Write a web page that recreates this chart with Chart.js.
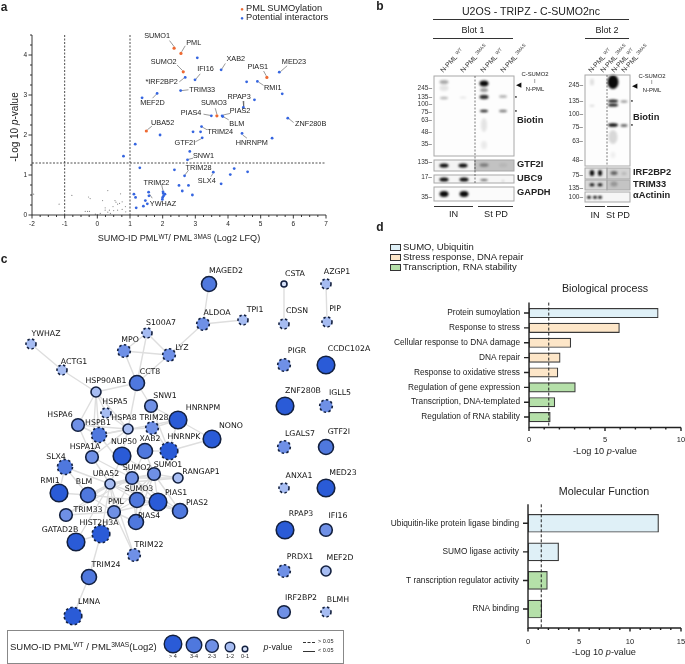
<!DOCTYPE html>
<html>
<head>
<meta charset="utf-8">
<title>SUMO-ID PML</title>
<script src="https://cdn.jsdelivr.net/npm/chart.js@4"></script>
<style>
	html, body { margin: 0; padding: 0; background: #fff; }
	#page { position: relative; width: 685px; height: 664px; overflow: hidden; font-family: "Liberation Sans", sans-serif; color: #222; }
	canvas { position: absolute; }
	.t { position: absolute; white-space: nowrap; line-height: 1; transform: translate(-50%, -50%); }
	.t sup { font-size: 70%; line-height: 0; vertical-align: 0.45em; }
	.box { position: absolute; box-sizing: border-box; }
</style>
</head>
<body>
<div id="page"></div>
<script>
// panel a - volcano
const sumoX = [2.35, 2.56, 2.63, 5.19, 3.66, 1.5];
const sumoY = [4.17, 4.04, 3.58, 3.44, 2.48, 2.1];
const interactorX = [3.06, 3.79, 5.57, 2.69, 2.99, 4.57, 4.9, 5.66, 2.55, 1.83, 1.37, 4.81, 4.47, 3.49, 3.82, 3.84, 5.83, 3.19, 2.93, 3.16, 1.92, 3.21, 4.43, 5.35, 1.16, 2.83, 2.76, 0.8, 1.3, 2.36, 2.67, 3.55, 4.19, 4.07, 4.6, 3.79, 2.5, 2.79, 2.6, 2.91, 2.01, 2.02, 2.07, 2.03, 2.0, 1.99, 1.57, 1.58, 1.47, 1.53, 1.41, 1.12, 1.17, 1.19];
const interactorY = [3.93, 3.63, 3.57, 3.44, 3.38, 3.33, 3.34, 3.03, 3.11, 3.04, 2.93, 2.88, 2.69, 2.48, 2.48, 2.46, 2.42, 2.21, 2.08, 2.08, 2.0, 1.93, 2.04, 1.92, 1.77, 1.59, 1.38, 1.47, 1.18, 1.13, 0.98, 1.07, 1.16, 1.01, 1.08, 0.78, 0.74, 0.74, 0.6, 0.5, 0.58, 0.54, 0.52, 0.48, 0.44, 0.39, 0.57, 0.48, 0.36, 0.28, 0.22, 0.52, 0.44, 0.18];
const otherX = [-1.95, -0.78, -1.17, -0.27, -0.22, 0.32, 0.71, 0.16, 0.54, 0.57, 0.62, 0.68, 0.76, -0.37, -0.3, -0.24, -0.06, 0, 0.24, 0.24, 0.32, 0.37, 0.4, 0.48, 0.5, 0.62, 0.76, 0.86, 0.87, 0.09];
const otherY = [0.52, 0.49, 0.27, 0.45, 0.41, 0.61, 0.53, 0.36, 0.36, 0.32, 0.27, 0.29, 0.33, 0.09, 0.09, 0.09, 0.02, 0.01, 0.18, 0.12, 0.07, 0.12, 0.04, 0.21, 0.11, 0.12, 0.14, 0.21, 0.08, 0.04];
const volcanoNames = ["SUMO1", "PML", "XAB2", "SUMO2", "IFI16", "PIAS1", "MED23", "*IRF2BP2", "TRIM33", "RMI1", "RPAP3", "MEF2D", "SUMO3", "PIAS2", "PIAS4", "BLM", "UBA52", "ZNF280B", "TRIM24", "GTF2I", "HNRNPM", "SNW1", "TRIM28", "SLX4", "TRIM22", "YWHAZ"];
const volcanoNameX = [1.83, 2.95, 4.24, 2.03, 3.31, 4.91, 6.02, 1.97, 3.21, 5.37, 4.34, 1.69, 3.57, 4.37, 2.87, 4.27, 2.0, 6.53, 3.76, 2.68, 4.73, 3.25, 3.1, 3.35, 1.81, 2.01];
const volcanoNameY = [4.48, 4.3, 3.9, 3.83, 3.64, 3.7, 3.83, 3.32, 3.13, 3.18, 2.96, 2.79, 2.79, 2.6, 2.54, 2.28, 2.31, 2.27, 2.08, 1.79, 1.8, 1.48, 1.18, 0.86, 0.81, 0.27];
const leaderLines = [[2.21, 4.36, 2.35, 4.21], [2.69, 4.23, 2.58, 4.08], [3.92, 3.79, 3.81, 3.65], [2.44, 3.75, 2.61, 3.61], [3.15, 3.53, 3.01, 3.39], [5.09, 3.6, 5.17, 3.48], [5.81, 3.73, 5.6, 3.58], [2.51, 3.33, 2.65, 3.42], [2.79, 3.13, 2.58, 3.11], [5.09, 3.24, 4.94, 3.32], [4.46, 2.85, 4.48, 2.71], [1.69, 2.92, 1.82, 3.03], [3.61, 2.67, 3.66, 2.52], [4.07, 2.54, 3.85, 2.5], [3.25, 2.52, 3.46, 2.49], [4.02, 2.38, 3.87, 2.45], [1.67, 2.22, 1.53, 2.13], [6.01, 2.31, 5.86, 2.41], [3.36, 2.13, 3.21, 2.2], [3.0, 1.83, 3.19, 1.91], [4.58, 1.92, 4.45, 2.0], [2.93, 1.42, 2.78, 1.39], [2.8, 1.13, 2.68, 1.0], [3.48, 0.96, 3.54, 1.04], [1.97, 0.75, 2.01, 0.61], [1.68, 0.42, 1.6, 0.52]];

// panel c - network, in picture units
const nodeNames = ["MAGED2", "CSTA", "AZGP1", "ALDOA", "TPI1", "CDSN", "PIP", "S100A7", "YWHAZ", "MPO", "LYZ", "PIGR", "CCDC102A", "ACTG1", "CCT8", "HSP90AB1", "ZNF280B", "IGLL5", "SNW1", "HSPA5", "HSPA6", "TRIM28", "HNRNPM", "HSPB1", "HSPA8", "NONO", "LGALS7", "GTF2I", "XAB2", "HNRNPK", "HSPA1A", "NUP50", "SLX4", "SUMO2", "SUMO1", "RANGAP1", "UBA52", "RMI1", "BLM", "SUMO3", "PIAS1", "PIAS2", "TRIM33", "PML", "PIAS4", "GATAD2B", "HIST2H3A", "TRIM22", "TRIM24", "LMNA", "ANXA1", "MED23", "RPAP3", "IFI16", "PRDX1", "MEF2D", "IRF2BP2", "BLMH"];
const nodeX = [209, 284, 326, 203, 243, 284, 327, 147, 31, 124, 169, 284, 326, 62, 137, 96, 285, 326, 151, 106, 78, 152, 178, 99, 128, 212, 284, 326, 145, 169, 92, 122, 65, 132, 154, 178, 110, 59, 88, 137, 158, 180, 66, 114, 136, 76, 101, 134, 89, 73, 284, 326, 285, 326, 284, 326, 284, 326];
const nodeY = [284, 284, 284, 324, 320, 324, 322, 333, 344, 351, 355, 365, 365, 370, 383, 392, 406, 406, 406, 413, 425, 428, 420, 435, 429, 439, 447, 447, 451, 451, 457, 456, 467, 478, 474, 478, 484, 493, 495, 500, 502, 511, 515, 512, 522, 542, 534, 555, 577, 616, 488, 488, 530, 530, 571, 571, 612, 612];
const nodeClass = [1, 4, 3, 2, 3, 3, 3, 3, 3, 2, 2, 2, 0, 3, 1, 3, 0, 2, 2, 3, 2, 2, 0, 1, 3, 0, 2, 1, 1, 0, 2, 0, 1, 2, 2, 3, 3, 0, 1, 1, 0, 1, 2, 2, 1, 0, 0, 2, 1, 0, 3, 0, 0, 2, 2, 3, 2, 3];
const dashedNodes = ["AZGP1", "ALDOA", "TPI1", "CDSN", "PIP", "S100A7", "YWHAZ", "MPO", "LYZ", "PIGR", "ACTG1", "IGLL5", "HSPA5", "TRIM28", "HSPB1", "LGALS7", "HNRNPK", "SLX4", "HIST2H3A", "TRIM22", "LMNA", "ANXA1", "PRDX1", "BLMH"];
const labelX = [226, 295, 337, 217, 255, 297, 335, 161, 46, 130, 182, 297, 349, 74, 150, 106, 303, 340, 165, 115, 60, 154, 203, 98, 124, 231, 300, 339, 150, 184, 85, 124, 56, 137, 168, 201, 106, 50, 84, 139, 176, 197, 88, 116, 149, 60, 99, 149, 106, 89, 299, 343, 301, 338, 300, 340, 301, 338];
const labelY = [271, 274, 272, 313, 310, 311, 309, 323, 334, 340, 348, 351, 349, 362, 372, 381, 391, 393, 396, 402, 415, 418, 408, 423, 418, 426, 434, 432, 439, 437, 447, 442, 457, 468, 465, 472, 474, 481, 482, 489, 493, 503, 510, 502, 516, 530, 523, 545, 565, 602, 476, 473, 514, 516, 557, 558, 598, 600];
const edges = [["MAGED2", "ALDOA"], ["ALDOA", "TPI1"], ["ALDOA", "LYZ"], ["CSTA", "CDSN"], ["AZGP1", "PIP"], ["S100A7", "MPO"], ["S100A7", "LYZ"], ["S100A7", "CCT8"], ["MPO", "LYZ"], ["MPO", "CCT8"], ["LYZ", "CCT8"], ["YWHAZ", "ACTG1"], ["ACTG1", "HSP90AB1"], ["HSP90AB1", "CCT8"], ["CCT8", "SNW1"], ["CCT8", "HSPA8"], ["HSP90AB1", "HSPA5"], ["HSP90AB1", "HSPA6"], ["HSP90AB1", "HSPB1"], ["HSP90AB1", "HSPA8"], ["HSP90AB1", "HSPA1A"], ["HSPA5", "HSPA8"], ["HSPA6", "HSPB1"], ["HSPA6", "HSPA8"], ["HSPA6", "HSPA1A"], ["HSPB1", "HSPA8"], ["HSPB1", "HSPA1A"], ["HSPA8", "HSPA1A"], ["HSPA8", "TRIM28"], ["HSPB1", "HNRNPM"], ["SNW1", "HNRNPM"], ["SNW1", "HNRNPK"], ["TRIM28", "HNRNPM"], ["TRIM28", "HNRNPK"], ["HNRNPM", "HNRNPK"], ["HNRNPM", "NONO"], ["HNRNPK", "NONO"], ["HSPA8", "NUP50"], ["XAB2", "HNRNPK"], ["NUP50", "SUMO2"], ["NUP50", "SUMO1"], ["NUP50", "UBA52"], ["XAB2", "SUMO2"], ["XAB2", "SUMO1"], ["HSPA1A", "UBA52"], ["HSPA1A", "SUMO2"], ["HSPB1", "SUMO2"], ["SUMO1", "SUMO2"], ["SUMO1", "RANGAP1"], ["SUMO2", "RANGAP1"], ["SUMO1", "SUMO3"], ["SUMO2", "SUMO3"], ["SUMO1", "PIAS1"], ["SUMO2", "PIAS1"], ["SUMO1", "PIAS2"], ["SUMO2", "PIAS2"], ["SUMO3", "PIAS1"], ["SUMO3", "PIAS2"], ["PIAS1", "PIAS2"], ["SUMO1", "PIAS4"], ["SUMO2", "PIAS4"], ["SUMO3", "PIAS4"], ["SUMO1", "PML"], ["SUMO2", "PML"], ["SUMO3", "PML"], ["PML", "PIAS1"], ["PML", "PIAS4"], ["UBA52", "SUMO1"], ["UBA52", "SUMO2"], ["UBA52", "SUMO3"], ["UBA52", "PML"], ["UBA52", "PIAS1"], ["UBA52", "RANGAP1"], ["SLX4", "RMI1"], ["SLX4", "BLM"], ["SLX4", "UBA52"], ["RMI1", "BLM"], ["BLM", "UBA52"], ["BLM", "PML"], ["BLM", "SUMO2"], ["BLM", "SUMO3"], ["TRIM33", "UBA52"], ["TRIM33", "PML"], ["TRIM33", "SUMO2"], ["GATAD2B", "HIST2H3A"], ["GATAD2B", "UBA52"], ["HIST2H3A", "UBA52"], ["HIST2H3A", "PML"], ["HIST2H3A", "TRIM24"], ["TRIM24", "LMNA"], ["TRIM22", "UBA52"], ["TRIM22", "PML"]];
const classLabels = ["> 4", "3-4", "2-3", "1-2", "0-1"];
const classColors = ["#2a5bd7", "#4f78de", "#6f90e6", "#a6bcf2", "#d6e1f9"];
const classRadius = [8.8, 7.5, 6.3, 5, 3];
const keyX = [173, 194, 212, 230, 245];
const keyY = [644, 645, 646, 647, 649];
const keyRadius = [8.8, 7.8, 6.4, 4.8, 2.8];

// panel d - enrichment bars
const processNames = ["Protein sumoylation", "Response to stress", "Cellular response to DNA damage", "DNA repair", "Response to oxidative stress", "Regulation of gene expression", "Transcription, DNA-templated", "Regulation of RNA stability"];
const processValues = [8.5, 5.95, 2.75, 2.05, 1.9, 3.05, 1.7, 1.4];
const processColors = ["#dff0f7", "#fde6c8", "#fde6c8", "#fde6c8", "#fde6c8", "#b5e0a9", "#b5e0a9", "#b5e0a9"];
const functionNames = ["Ubiquitin-like protein ligase binding", "SUMO ligase activity", "T ranscription regulator activity", "RNA binding"];
const functionValues = [12.8, 3.0, 1.9, 1.35];
const functionColors = ["#dff0f7", "#dff0f7", "#b5e0a9", "#b5e0a9"];
const pThreshold = 1.3;

// panel b - blots, in picture units: x1, y1, x2, y2, fill
const blotPanels = [[434, 76, 514, 156, "#fdfdfd"], [434, 160, 475, 171, "#f4f4f4"], [475, 160, 514, 171, "#c2c2c2"], [434, 175, 514, 183, "#f6f6f6"], [434, 187, 514, 201, "#fbfbfb"], [585, 75, 630, 166, "#fdfdfd"], [585, 168, 607, 179, "#e8e8e8"], [607, 168, 630, 179, "#d4d4d4"], [585, 180, 607, 190, "#d8d8d8"], [607, 180, 630, 190, "#c4c4c4"], [585, 192, 630, 202, "#f6f6f6"]];
// x, y, width, height, darkness
const blotBands = [[444, 82, 9, 4, 0.35], [444, 88, 9, 6, 0.1], [444, 98, 8, 2.5, 0.3], [463, 97.5, 7, 1.5, 0.12], [484, 83.5, 9, 6, 1], [484, 90, 8, 4, 0.4], [484, 97, 9, 4.5, 0.85], [484, 111, 8, 2.5, 0.9], [503, 96.5, 8, 2.5, 0.35], [503, 111, 8, 2.5, 0.55], [484, 125, 6, 14, 0.1], [484, 145, 6, 8, 0.08],
	[444, 165.5, 9, 4, 1], [463, 165.5, 9, 4, 1], [484, 165, 9, 3.5, 0.4], [503, 165, 8, 3, 0.08],
	[444, 179.5, 9, 4, 1], [464, 179.5, 9, 4, 1], [484, 180, 8, 1.5, 0.85], [503, 181, 1.5, 1.5, 0.4],
	[444, 194, 9, 6, 1], [464, 194, 9, 6, 1],
	[592, 82, 4, 7, 0.12], [592, 105.7, 5, 1.5, 0.2], [613, 82, 11, 14, 1], [613, 101, 10, 3, 0.95], [613, 105, 10, 3, 0.95], [624, 101.5, 7, 2, 0.5], [613, 125, 10, 3.5, 1], [624, 125.5, 7, 2.5, 0.7], [613, 137, 9, 14, 0.15], [613, 155, 5, 6, 0.06],
	[592, 173, 4.5, 6, 1], [600, 173, 4, 6, 1], [614, 173, 7, 4, 0.55], [624, 173.5, 5, 3, 0.15],
	[592, 184.7, 5, 3, 1], [600, 184.7, 5, 3, 1], [614, 184, 7, 5, 0.25],
	[589, 197.3, 4, 3, 1], [595, 197.3, 4, 3, 1], [600, 197.3, 4, 3, 1]];
const blotSplits = [[475, 76, 183], [607, 75, 166]];
const laneX = [442, 462, 482, 502, 590, 602, 613, 623];
const laneTags = ["WT", "3MAS", "WT", "3MAS", "WT", "3MAS", "WT", "3MAS"];
const sizeLabels = ["245", "135", "100", "75", "63", "48", "35", "135", "17", "35", "245", "135", "100", "75", "63", "48", "75", "135", "100"];
const sizeY = [88, 97, 103.5, 112, 120, 132, 143.7, 161.5, 177, 197, 85, 101, 114, 127, 141, 160, 175, 187.5, 197];
const sizeRight = [432, 432, 432, 432, 432, 432, 432, 432, 432, 432, 583, 583, 583, 583, 583, 583, 583, 583, 583];

const page = document.querySelector("#page");
Chart.defaults.animation = false;
Chart.defaults.responsive = false;
Chart.defaults.font.family = '"Liberation Sans", sans-serif';
Chart.defaults.layout.autoPadding = false;
Chart.defaults.plugins.legend.display = false;
Chart.defaults.plugins.tooltip.enabled = false;

function addText(x, y, html, size, extra = "") {
	const el = document.createElement("div");
	el.className = "t";
	el.style.cssText = `left:${x}px;top:${y}px;font-size:${size}px;${extra}`;
	el.innerHTML = html;
	page.appendChild(el);
	return el;
}

function addBox(x, y, w, h, css) {
	const el = document.createElement("div");
	el.className = "box";
	el.style.cssText = `left:${x}px;top:${y}px;width:${w}px;height:${h}px;${css}`;
	page.appendChild(el);
}

function addCanvas(x, y, w, h) {
	const c = document.createElement("canvas");
	c.width = w;
	c.height = h;
	c.style.left = x + "px";
	c.style.top = y + "px";
	page.appendChild(c);
	return c.getContext("2d");
}

// tick marks, axis lines and dashed reference lines, all through the chart scales
const axisPlugin = {
	id: "axisMarks",
	afterDatasetsDraw(chart, args, opts) {
		const { ctx, chartArea: a, scales } = chart;
		const ext = opts.extend || 0;
		const left = a.left;
		const bottom = a.bottom + ext;
		const top = a.top - ext;
		ctx.save();
		ctx.strokeStyle = "#222";
		ctx.lineWidth = opts.lineWidth || 1;
		ctx.beginPath();
		ctx.moveTo(left, top);
		ctx.lineTo(left, bottom);
		ctx.lineTo(a.right, bottom);
		ctx.stroke();

		ctx.beginPath();
		for (let v = scales.x.min; v <= scales.x.max + 1e-6; v += opts.xMinor) {
			const isMajor = Math.abs(v / opts.xMajor - Math.round(v / opts.xMajor)) < 1e-6;
			const px = scales.x.getPixelForValue(v);
			ctx.moveTo(px, bottom);
			ctx.lineTo(px, bottom + (isMajor ? 3.5 : 2));
		}
		if (opts.yMinor) {
			for (let v = scales.y.min; v <= scales.y.max + 1e-6; v += opts.yMinor) {
				const isMajor = Math.abs(v - Math.round(v)) < 1e-6;
				const py = scales.y.getPixelForValue(v);
				ctx.moveTo(left, py);
				ctx.lineTo(left - (isMajor ? 3.5 : 2), py);
			}
		} else {
			scales.y.ticks.forEach((tick, i) => {
				const py = scales.y.getPixelForTick(i);
				ctx.moveTo(left, py);
				ctx.lineTo(left - 5, py);
			});
		}
		ctx.stroke();

		ctx.lineWidth = opts.refWidth || 1;
		ctx.setLineDash(opts.refDash || [2.5, 2]);
		ctx.beginPath();
		(opts.refX || []).forEach((v) => {
			const px = scales.x.getPixelForValue(v);
			ctx.moveTo(px, top);
			ctx.lineTo(px, bottom);
		});
		(opts.refY || []).forEach((v) => {
			const py = scales.y.getPixelForValue(v);
			ctx.moveTo(left, py);
			ctx.lineTo(a.right, py);
		});
		ctx.stroke();
		ctx.restore();
	},
};

function toPoints(xs, ys) {
	return xs.map((x, i) => ({ x: x, y: ys[i] }));
}

// pins the axis box so the plot area lands where it should
function fixedSize(width, height) {
	return (scale) => {
		if (width) scale.width = width;
		if (height) scale.height = height;
		scale.paddingLeft = 0;
		scale.paddingRight = 0;
	};
}

function drawVolcano() {
	const ctx = addCanvas(0, 0, 340, 240);
	const leaders = leaderLines.map((l) => ({
		type: "line",
		data: [{ x: l[0], y: l[1] }, { x: l[2], y: l[3] }],
		borderColor: "#555",
		borderWidth: 0.6,
		pointRadius: 0,
	}));
	const chart = new Chart(ctx, {
		type: "scatter",
		data: {
			datasets: [
				{ data: toPoints(sumoX, sumoY), pointRadius: 1.6, pointBorderWidth: 0, backgroundColor: "#ee6a33" },
				{ data: toPoints(interactorX, interactorY), pointRadius: 1.4, pointBorderWidth: 0, backgroundColor: "#3565e0" },
				{ data: toPoints(otherX, otherY), pointRadius: 0.6, pointBorderWidth: 0, backgroundColor: "#888" },
				...leaders,
			],
		},
		options: {
			layout: { padding: { left: 0, right: 14, top: 35, bottom: 0 } },
			scales: {
				x: {
					type: "linear", min: -2, max: 7,
					grid: { display: false, drawTicks: false }, border: { display: false },
					ticks: { stepSize: 1, autoSkip: false, maxRotation: 0, font: { size: 6.5 }, color: "#222", padding: 5 },
					afterFit: fixedSize(0, 25),
				},
				y: {
					type: "linear", min: 0, max: 4.5,
					grid: { display: false, drawTicks: false }, border: { display: false },
					ticks: {
						stepSize: 1, font: { size: 6.5 }, color: "#222", padding: 5,
						callback: (v) => (Number.isInteger(v) ? v : ""),
					},
					afterFit: fixedSize(32, 0),
				},
			},
			plugins: {
				axisMarks: { xMinor: 0.25, xMajor: 1, yMinor: 0.25, refX: [-1, 1], refY: [pThreshold], refDash: [2, 1.5], lineWidth: 0.9, refWidth: 0.8 },
			},
		},
		plugins: [axisPlugin],
	});
	volcanoNames.forEach((name, i) => {
		addText(chart.scales.x.getPixelForValue(volcanoNameX[i]), chart.scales.y.getPixelForValue(volcanoNameY[i]), name, 7.3);
	});
}

function drawNetwork() {
	const ctx = addCanvas(0, 240, 360, 424);
	const indexOf = (name) => nodeNames.indexOf(name);
	const edgeSets = edges.map((e) => ({
		type: "line",
		data: [
			{ x: nodeX[indexOf(e[0])], y: nodeY[indexOf(e[0])] },
			{ x: nodeX[indexOf(e[1])], y: nodeY[indexOf(e[1])] },
		],
		borderColor: "#dedede",
		borderWidth: 1.4,
		pointRadius: 0,
		order: 5,
	}));
	const isDashed = nodeNames.map((n) => dashedNodes.includes(n));
	const dashedRing = {
		id: "dashedRing",
		afterDatasetsDraw(chart) {
			const meta = chart.getDatasetMeta(0);
			const c = chart.ctx;
			c.save();
			c.strokeStyle = "#13203f";
			c.lineWidth = 1.6;
			c.setLineDash([2.4, 2.4]);
			meta.data.forEach((pt, i) => {
				if (!isDashed[i]) return;
				c.beginPath();
				c.arc(pt.x, pt.y, pt.options.radius, 0, Math.PI * 2);
				c.stroke();
			});
			c.restore();
		},
	};
	new Chart(ctx, {
		type: "scatter",
		data: {
			datasets: [
				{
					data: toPoints(nodeX, nodeY),
					pointRadius: nodeClass.map((k) => classRadius[k]),
					pointBackgroundColor: nodeClass.map((k) => classColors[k]),
					pointBorderColor: "#13203f",
					pointBorderWidth: isDashed.map((d) => (d ? 0 : 1.6)),
					order: 1,
				},
				{
					data: toPoints(keyX, keyY),
					pointRadius: keyRadius,
					pointBackgroundColor: classColors,
					pointBorderColor: "#13203f",
					pointBorderWidth: 1.4,
					order: 1,
				},
				...edgeSets,
			],
		},
		options: {
			layout: { padding: 0 },
			scales: {
				x: { type: "linear", min: 0, max: 360, display: false },
				y: { type: "linear", min: 240, max: 664, reverse: true, display: false },
			},
		},
		plugins: [dashedRing],
	});
	nodeNames.forEach((name, i) => {
		addText(labelX[i], labelY[i], name, 7.8, 'font-family:"DejaVu Sans",sans-serif;color:#111;');
	});
	classLabels.forEach((label, i) => {
		addText(keyX[i], 657, label, 5.5);
	});
}

function drawBars(box, names, values, colors, xMax, thickness, yLabelWidth) {
	const ctx = addCanvas(box.x, box.y, box.w, box.h);
	new Chart(ctx, {
		type: "bar",
		data: {
			labels: names,
			datasets: [{
				data: values,
				backgroundColor: colors,
				borderColor: "#3a3a3a",
				borderWidth: 1.2,
				borderSkipped: false,
				barThickness: thickness,
			}],
		},
		options: {
			indexAxis: "y",
			layout: { padding: { left: 0, right: box.w - yLabelWidth - box.plotW, top: box.top, bottom: 0 } },
			scales: {
				x: {
					type: "linear", min: 0, max: xMax,
					grid: { display: false, drawTicks: false }, border: { display: false },
					ticks: { stepSize: 5, autoSkip: false, maxRotation: 0, font: { size: 7.5 }, color: "#222", padding: box.xPad },
					afterFit: fixedSize(0, box.xh),
				},
				y: {
					grid: { display: false, drawTicks: false }, border: { display: false },
					ticks: { font: { size: 8.3 }, color: "#222", padding: 9, autoSkip: false },
					afterFit: fixedSize(yLabelWidth, 0),
				},
			},
			plugins: {
				axisMarks: { xMinor: 1, xMajor: 5, extend: box.extend, refX: [pThreshold], lineWidth: 1.4, refDash: [3, 2] },
			},
		},
		plugins: [axisPlugin],
	});
}

function drawBlots() {
	const ctx = addCanvas(340, 0, 345, 240);
	const blotPlugin = {
		id: "blots",
		afterDatasetsDraw(chart) {
			const c = chart.ctx;
			const sx = chart.scales.x;
			const sy = chart.scales.y;
			c.save();
			blotPanels.forEach((p) => {
				const x1 = sx.getPixelForValue(p[0]);
				const y1 = sy.getPixelForValue(p[1]);
				c.fillStyle = p[4];
				c.fillRect(x1, y1, sx.getPixelForValue(p[2]) - x1, sy.getPixelForValue(p[3]) - y1);
			});
			c.filter = "blur(0.9px)";
			blotBands.forEach((b) => {
				c.fillStyle = `rgba(10,10,10,${b[4]})`;
				c.beginPath();
				c.ellipse(sx.getPixelForValue(b[0]), sy.getPixelForValue(b[1]), b[2] / 2, b[3] / 2, 0, 0, Math.PI * 2);
				c.fill();
			});
			c.filter = "none";
			c.strokeStyle = "#a8a8a8";
			c.lineWidth = 1;
			blotPanels.forEach((p) => {
				const x1 = sx.getPixelForValue(p[0]);
				const y1 = sy.getPixelForValue(p[1]);
				c.strokeRect(x1, y1, sx.getPixelForValue(p[2]) - x1, sy.getPixelForValue(p[3]) - y1);
			});
			c.strokeStyle = "#444";
			c.lineWidth = 0.7;
			c.setLineDash([2, 1.5]);
			blotSplits.forEach((s) => {
				c.beginPath();
				c.moveTo(sx.getPixelForValue(s[0]), sy.getPixelForValue(s[1]));
				c.lineTo(sx.getPixelForValue(s[0]), sy.getPixelForValue(s[2]));
				c.stroke();
			});
			c.restore();
		},
	};
	new Chart(ctx, {
		type: "scatter",
		data: { datasets: [{ data: [], pointRadius: 0 }] },
		options: {
			layout: { padding: 0 },
			scales: {
				x: { type: "linear", min: 340, max: 685, display: false },
				y: { type: "linear", min: 0, max: 240, reverse: true, display: false },
			},
		},
		plugins: [blotPlugin],
	});

	sizeLabels.forEach((label, i) => {
		const el = addText(sizeRight[i], sizeY[i], label + "–", 6.5, "color:#333;");
		el.style.transform = "translate(-100%,-50%)";
	});
	laneX.forEach((x, i) => {
		const el = addText(x, 72, `N-PML <sup>${laneTags[i]}</sup>`, 6.8, "color:#333;");
		el.style.transformOrigin = "0 50%";
		el.style.transform = "translate(0,-50%) rotate(-47deg)";
	});
}

function drawPageText() {
	const bold = "font-weight:bold;";
	addText(4, 7, "a", 12, bold);
	addText(380, 6, "b", 12, bold);
	addText(4, 259, "c", 12, bold);
	addText(380, 227, "d", 12, bold);

	// panel a
	addText(242, 8.5, "●", 6, "color:#ee6a33;");
	addText(242, 18, "●", 6, "color:#3565e0;");
	addText(246, 8.5, "PML SUMOylation", 9.3, "transform:translate(0,-50%);");
	addText(246, 18, "Potential interactors", 9.3, "transform:translate(0,-50%);");
	addText(15, 127, "-Log 10 <i>p</i>-value", 10, "transform:translate(-50%,-50%) rotate(-90deg);");
	addText(179, 239, "SUMO-ID PML<sup>WT</sup>/ PML<sup> 3MAS</sup> (Log2 LFQ)", 9.1);

	// panel b
	addText(531, 11, "U2OS - TRIPZ - C-SUMO2nc", 10.6);
	addText(473, 30, "Blot 1", 9);
	addText(607, 30, "Blot 2", 9);
	addBox(433, 19, 196, 1, "background:#333;");
	addBox(433, 38, 80, 1, "background:#333;");
	addBox(585, 38, 44, 1, "background:#333;");
	addBox(434, 206, 39, 1, "background:#333;");
	addBox(478, 206, 35, 1, "background:#333;");
	addBox(585, 206, 20, 1, "background:#333;");
	addBox(607, 206, 22, 1, "background:#333;");
	addText(453.5, 215, "IN", 9.2);
	addText(496, 215, "St PD", 9.2);
	addText(595, 216, "IN", 9.2);
	addText(618, 216, "St PD", 9.2);
	addText(535, 75, "C-SUMO2", 5.9);
	addText(535, 82, "I", 4.5);
	addText(535, 90, "N-PML", 5.9);
	addText(652, 77, "C-SUMO2", 5.9);
	addText(652, 83, "I", 4.5);
	addText(652, 91, "N-PML", 5.9);
	addText(518, 84, "◀", 7, "color:#111;");
	addText(634, 85, "◀", 7, "color:#111;");
	[[516, 97], [516, 111], [632, 101], [632, 125]].forEach((p) => addText(p[0], p[1], "●", 4, "color:#111;"));
	const blotNames = [["Biotin", 517, 121], ["GTF2I", 517, 165], ["UBC9", 517, 179], ["GAPDH", 517, 193], ["Biotin", 633, 118], ["IRF2BP2", 633, 173], ["TRIM33", 633, 185], ["αActinin", 633, 196]];
	blotNames.forEach((b) => addText(b[1], b[2], b[0], 9.3, bold + "transform:translate(0,-50%);"));

	// panel c key
	addBox(7, 630, 337, 34, "border:1.2px solid #888;");
	addText(10, 647, "SUMO-ID PML<sup>WT</sup> / PML<sup>3MAS</sup>(Log2)", 9.5, "transform:translate(0,-50%);");
	addText(278, 647, "<i>p</i>-value", 8.8);
	addBox(303, 642, 12, 0, "border-top:1px dashed #333;");
	addBox(303, 651, 12, 0, "border-top:1px solid #333;");
	addText(318, 642, "&gt; 0.05", 5.5, "transform:translate(0,-50%);");
	addText(318, 651, "&lt; 0.05", 5.5, "transform:translate(0,-50%);");

	// panel d
	const groups = [["SUMO, Ubiquitin", "#dff0f7", 247], ["Stress response, DNA repair", "#fde6c8", 257], ["Transcription, RNA stability", "#b5e0a9", 267]];
	groups.forEach((g) => {
		addBox(390, g[2] - 3, 11, 6.5, `background:${g[1]};border:1px solid #333;`);
		addText(403, g[2], g[0], 9.5, "transform:translate(0,-50%);");
	});
	addText(605, 288, "Biological process", 10.7);
	addText(605, 452, "-Log 10 <i>p</i>-value", 9.2);
	addText(604, 491, "Molecular Function", 10.7);
	addText(604, 653, "-Log 10 <i>p</i>-value", 9.2);
}

drawVolcano();
drawNetwork();
drawBlots();
drawBars({ x: 340, y: 290, w: 345, h: 160, top: 15.6, plotW: 152, xh: 25.5, xPad: 11, extend: 3 }, processNames, processValues, processColors, 10, 9.5, 189);
drawBars({ x: 340, y: 495, w: 345, h: 155, top: 14, plotW: 153, xh: 26.7, xPad: 14, extend: 4.7 }, functionNames, functionValues, functionColors, 15, 18, 188);
drawPageText();
</script>
</body>
</html>
